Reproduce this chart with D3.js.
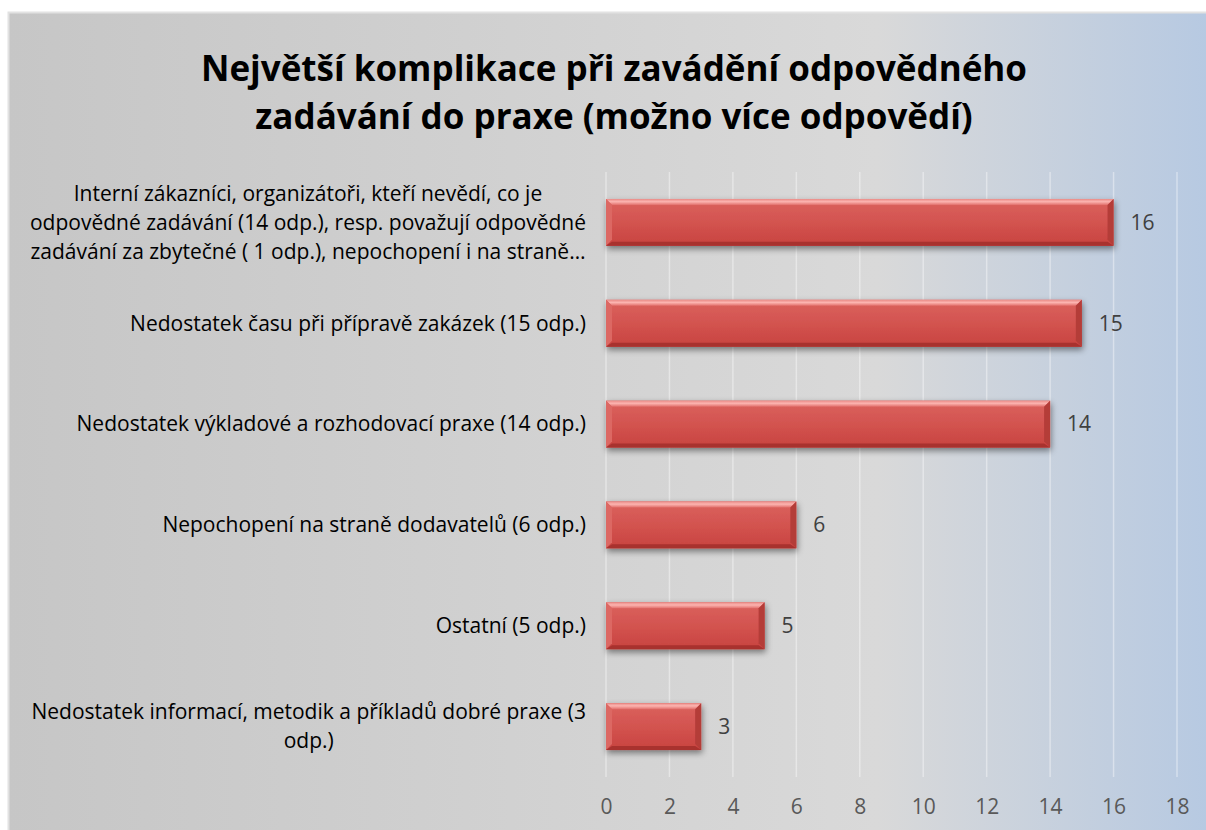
<!DOCTYPE html>
<html>
<head>
<meta charset="utf-8">
<script src="https://cdn.jsdelivr.net/npm/d3@7"></script>
<style>
  body { margin: 0; background: #fff; }
  text { font-family: "Open Sans", "Noto Sans", sans-serif; }
</style>
</head>
<body>
<div id="chart"></div>
<script>
// data, top bar first
const titleLines = [
  "Největší komplikace při zavádění odpovědného",
  "zadávání do praxe (možno více odpovědí)"
];
const categories = [
  ["Interní zákazníci, organizátoři, kteří nevědí, co je",
   "odpovědné zadávání (14 odp.), resp. považují odpovědné",
   "zadávání za zbytečné ( 1 odp.), nepochopení i na straně…"],
  ["Nedostatek času při přípravě zakázek (15 odp.)"],
  ["Nedostatek výkladové a rozhodovací praxe (14 odp.)"],
  ["Nepochopení na straně dodavatelů (6 odp.)"],
  ["Ostatní (5 odp.)"],
  ["Nedostatek informací, metodik a příkladů dobré praxe (3", "odp.)"]
];
const values = [16, 15, 14, 6, 5, 3];
const xTicks = [0, 2, 4, 6, 8, 10, 12, 14, 16, 18];

const width = 1206, height = 830;
const plot = { left: 606, right: 1177, top: 172, bottom: 777 };

const svg = d3.select("#chart").append("svg")
  .attr("width", width)
  .attr("height", height);

const defs = svg.append("defs");

const bg = defs.append("linearGradient").attr("id", "bg")
  .attr("x1", 0).attr("x2", 1).attr("y1", 0).attr("y2", 0);
bg.append("stop").attr("offset", "0%").attr("stop-color", "#c6c6c6");
bg.append("stop").attr("offset", "72%").attr("stop-color", "#d9d9d9");
bg.append("stop").attr("offset", "100%").attr("stop-color", "#b6c9e2");

const barGrad = defs.append("linearGradient").attr("id", "barFill")
  .attr("x1", 0).attr("x2", 0).attr("y1", 0).attr("y2", 1);
barGrad.append("stop").attr("offset", "0%").attr("stop-color", "#db625e");
barGrad.append("stop").attr("offset", "55%").attr("stop-color", "#d2524e");
barGrad.append("stop").attr("offset", "100%").attr("stop-color", "#c8433f");

const topGrad = defs.append("linearGradient").attr("id", "barTop")
  .attr("x1", 0).attr("x2", 0).attr("y1", 0).attr("y2", 1);
topGrad.append("stop").attr("offset", "0%").attr("stop-color", "#e98a86");
topGrad.append("stop").attr("offset", "45%").attr("stop-color", "#fcb4b0");
topGrad.append("stop").attr("offset", "100%").attr("stop-color", "#e2706c");

const shadow = defs.append("filter").attr("id", "shadow")
  .attr("x", "-10%").attr("y", "-30%").attr("width", "120%").attr("height", "180%");
shadow.append("feDropShadow")
  .attr("dx", 1).attr("dy", 3).attr("stdDeviation", 3)
  .attr("flood-color", "#000").attr("flood-opacity", 0.45);

// chart area background (runs off the right and bottom edge like the source)
svg.append("rect")
  .attr("x", 8.5).attr("y", 12.5)
  .attr("width", width).attr("height", height)
  .attr("fill", "url(#bg)")
  .attr("stroke", "#e2e2e2")
  .attr("stroke-width", 2);

// title
svg.append("g").selectAll("text")
  .data(titleLines)
  .join("text")
  .attr("x", 614)
  .attr("y", (d, i) => 81 + i * 48)
  .attr("text-anchor", "middle")
  .attr("font-size", 35)
  .attr("font-weight", "bold")
  .attr("fill", "#000")
  .text(d => d);

const x = d3.scaleLinear().domain([0, 18]).range([plot.left, plot.right]);
const y = d3.scaleBand()
  .domain(d3.range(categories.length))
  .range([plot.top, plot.bottom])
  .paddingInner(0.535)
  .paddingOuter(0.2675);

// gridlines
svg.append("g").selectAll("line")
  .data(xTicks)
  .join("line")
  .attr("x1", d => x(d)).attr("x2", d => x(d))
  .attr("y1", plot.top).attr("y2", plot.bottom)
  .attr("stroke", "#fff")
  .attr("stroke-opacity", 0.4)
  .attr("stroke-width", 1.5);

// x axis tick labels
const xAxis = svg.append("g")
  .attr("transform", `translate(0,${plot.bottom})`)
  .call(d3.axisBottom(x).tickValues(xTicks).tickSize(0).tickPadding(22));
xAxis.select(".domain").remove();
xAxis.selectAll("text")
  .attr("font-family", "'Open Sans', 'Noto Sans', sans-serif")
  .attr("font-size", 21)
  .attr("fill", "#595959");

// bars with a bevel
const bev = 6;
const bars = svg.append("g").selectAll("g")
  .data(values)
  .join("g")
  .attr("filter", "url(#shadow)");

bars.append("rect")
  .attr("x", x(0))
  .attr("y", (d, i) => y(i))
  .attr("width", d => x(d) - x(0))
  .attr("height", y.bandwidth())
  .attr("fill", "url(#barFill)");

function quad(pts) { return pts.map(p => p.join(",")).join(" "); }

bars.append("polygon") // top
  .attr("fill", "url(#barTop)")
  .attr("points", (d, i) => {
    const x0 = x(0), x1 = x(d), y0 = y(i);
    return quad([[x0, y0], [x1, y0], [x1 - bev, y0 + bev], [x0 + bev, y0 + bev]]);
  });
bars.append("polygon") // left
  .attr("fill", "#dc6864")
  .attr("points", (d, i) => {
    const x0 = x(0), y0 = y(i), y1 = y(i) + y.bandwidth();
    return quad([[x0, y0], [x0 + bev, y0 + bev], [x0 + bev, y1 - bev], [x0, y1]]);
  });
bars.append("polygon") // right
  .attr("fill", "#b43c39")
  .attr("points", (d, i) => {
    const x1 = x(d), y0 = y(i), y1 = y(i) + y.bandwidth();
    return quad([[x1, y0], [x1 - bev, y0 + bev], [x1 - bev, y1 - bev], [x1, y1]]);
  });
bars.append("polygon") // bottom
  .attr("fill", "#a8312f")
  .attr("points", (d, i) => {
    const x0 = x(0), x1 = x(d), y1 = y(i) + y.bandwidth();
    return quad([[x0, y1], [x1, y1], [x1 - bev, y1 - 4], [x0 + bev, y1 - 4]]);
  });

// value labels
svg.append("g").selectAll("text")
  .data(values)
  .join("text")
  .attr("x", d => x(d) + 17)
  .attr("y", (d, i) => y(i) + y.bandwidth() / 2)
  .attr("dy", "0.35em")
  .attr("font-size", 21)
  .attr("fill", "#404040")
  .text(d => d);

// category labels: block right-aligned, lines centred within the block
const labelRight = 586, lineH = 29;
const labels = svg.append("g").selectAll("g")
  .data(categories)
  .join("g");

labels.each(function (lines, i) {
  const g = d3.select(this);
  const cy = y(i) + y.bandwidth() / 2;
  const t = g.selectAll("text")
    .data(lines)
    .join("text")
    .attr("y", (d, j) => cy + (j - (lines.length - 1) / 2) * lineH)
    .attr("dy", "0.35em")
    .attr("font-size", 21)
    .attr("fill", "#000")
    .attr("text-anchor", "middle")
    .text(d => d);
  const w = d3.max(t.nodes(), n => n.getComputedTextLength());
  t.attr("x", labelRight - w / 2);
});
</script>
</body>
</html>
